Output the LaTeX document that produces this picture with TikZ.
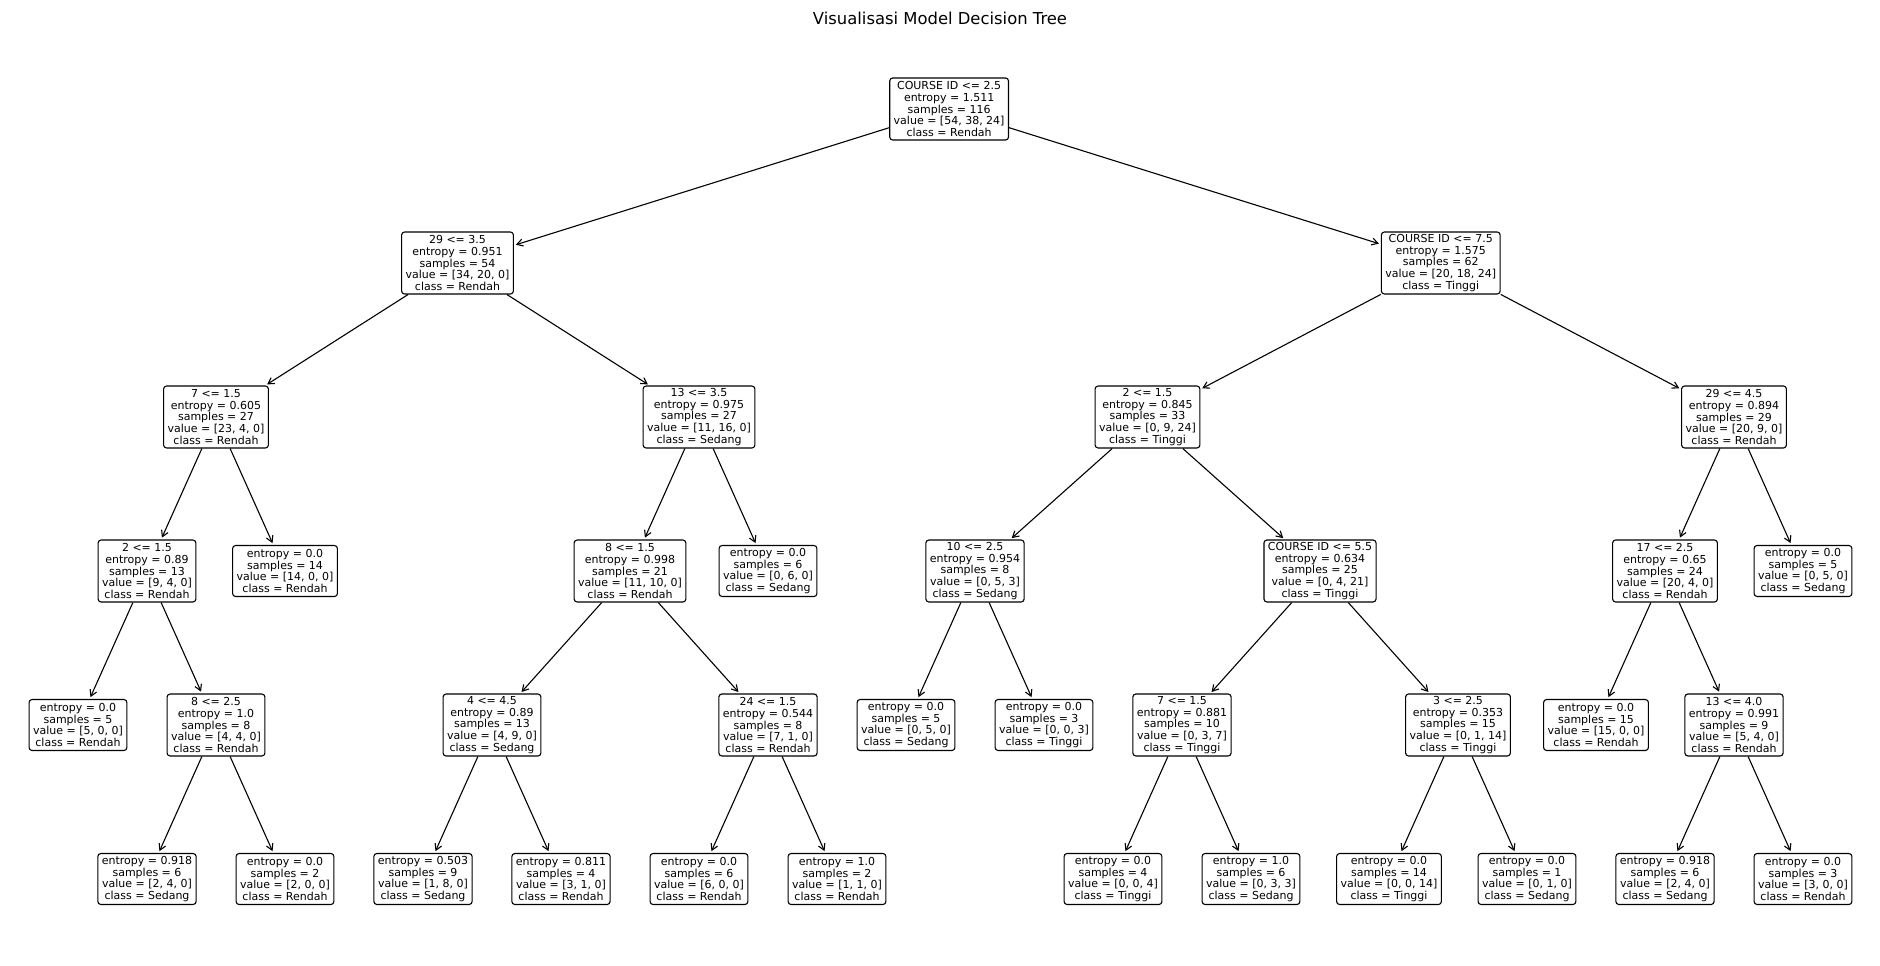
\documentclass[tikz,border=0pt]{standalone}
\usepackage{fontspec}
\setmainfont{DejaVu Sans}
\usetikzlibrary{arrows.meta}

\begin{document}
\begin{tikzpicture}[
    x=69pt, y=-154pt,
    font=\fontsize{11}{11.8}\selectfont,
    split/.style={draw, line width=1.1pt, rounded corners=3pt, fill=white, align=center, inner xsep=4pt, inner ysep=2pt, minimum height=62pt},
    leaf/.style={split, minimum height=51pt},
    arrow/.style={-{Straight Barb[length=6pt, width=7pt]}, line width=1.1pt, shorten >=2pt}
  ]
  \useasboundingbox (-78pt,109pt) rectangle (1802pt,-857pt);

  % Title
  \node[font=\fontsize{16.4}{19}\selectfont] (title) at (862pt,91pt) {Visualisasi Model Decision Tree};

  % Level 0
  \node[split] (root) at (12.625,0) {COURSE ID <= 2.5\\entropy = 1.511\\samples = 116\\value = [54, 38, 24]\\class = Rendah};

  % Level 1
  \node[split] (L) at (5.5,1) {29 <= 3.5\\entropy = 0.951\\samples = 54\\value = [34, 20, 0]\\class = Rendah};
  \node[split] (R) at (19.75,1) {COURSE ID <= 7.5\\entropy = 1.575\\samples = 62\\value = [20, 18, 24]\\class = Tinggi};

  % Level 2
  \node[split] (LL) at (2,2) {7 <= 1.5\\entropy = 0.605\\samples = 27\\value = [23, 4, 0]\\class = Rendah};
  \node[split] (LR) at (9,2) {13 <= 3.5\\entropy = 0.975\\samples = 27\\value = [11, 16, 0]\\class = Sedang};
  \node[split] (RL) at (15.5,2) {2 <= 1.5\\entropy = 0.845\\samples = 33\\value = [0, 9, 24]\\class = Tinggi};
  \node[split] (RR) at (24,2) {29 <= 4.5\\entropy = 0.894\\samples = 29\\value = [20, 9, 0]\\class = Rendah};

  % Level 3
  \node[split] (LLL) at (1,3) {2 <= 1.5\\entropy = 0.89\\samples = 13\\value = [9, 4, 0]\\class = Rendah};
  \node[leaf] (LLR) at (3,3) {entropy = 0.0\\samples = 14\\value = [14, 0, 0]\\class = Rendah};
  \node[split] (LRL) at (8,3) {8 <= 1.5\\entropy = 0.998\\samples = 21\\value = [11, 10, 0]\\class = Rendah};
  \node[leaf] (LRR) at (10,3) {entropy = 0.0\\samples = 6\\value = [0, 6, 0]\\class = Sedang};
  \node[split] (RLL) at (13,3) {10 <= 2.5\\entropy = 0.954\\samples = 8\\value = [0, 5, 3]\\class = Sedang};
  \node[split] (RLR) at (18,3) {COURSE ID <= 5.5\\entropy = 0.634\\samples = 25\\value = [0, 4, 21]\\class = Tinggi};
  \node[split] (RRL) at (23,3) {17 <= 2.5\\entropy = 0.65\\samples = 24\\value = [20, 4, 0]\\class = Rendah};
  \node[leaf] (RRR) at (25,3) {entropy = 0.0\\samples = 5\\value = [0, 5, 0]\\class = Sedang};

  % Level 4
  \node[leaf] (LLLL) at (0,4) {entropy = 0.0\\samples = 5\\value = [5, 0, 0]\\class = Rendah};
  \node[split] (LLLR) at (2,4) {8 <= 2.5\\entropy = 1.0\\samples = 8\\value = [4, 4, 0]\\class = Rendah};
  \node[split] (LRLL) at (6,4) {4 <= 4.5\\entropy = 0.89\\samples = 13\\value = [4, 9, 0]\\class = Sedang};
  \node[split] (LRLR) at (10,4) {24 <= 1.5\\entropy = 0.544\\samples = 8\\value = [7, 1, 0]\\class = Rendah};
  \node[leaf] (RLLL) at (12,4) {entropy = 0.0\\samples = 5\\value = [0, 5, 0]\\class = Sedang};
  \node[leaf] (RLLR) at (14,4) {entropy = 0.0\\samples = 3\\value = [0, 0, 3]\\class = Tinggi};
  \node[split] (RLRL) at (16,4) {7 <= 1.5\\entropy = 0.881\\samples = 10\\value = [0, 3, 7]\\class = Tinggi};
  \node[split] (RLRR) at (20,4) {3 <= 2.5\\entropy = 0.353\\samples = 15\\value = [0, 1, 14]\\class = Tinggi};
  \node[leaf] (RRLL) at (22,4) {entropy = 0.0\\samples = 15\\value = [15, 0, 0]\\class = Rendah};
  \node[split] (RRLR) at (24,4) {13 <= 4.0\\entropy = 0.991\\samples = 9\\value = [5, 4, 0]\\class = Rendah};

  % Level 5
  \node[leaf] (LLLRL) at (1,5) {entropy = 0.918\\samples = 6\\value = [2, 4, 0]\\class = Sedang};
  \node[leaf] (LLLRR) at (3,5) {entropy = 0.0\\samples = 2\\value = [2, 0, 0]\\class = Rendah};
  \node[leaf] (LRLLL) at (5,5) {entropy = 0.503\\samples = 9\\value = [1, 8, 0]\\class = Sedang};
  \node[leaf] (LRLLR) at (7,5) {entropy = 0.811\\samples = 4\\value = [3, 1, 0]\\class = Rendah};
  \node[leaf] (LRLRL) at (9,5) {entropy = 0.0\\samples = 6\\value = [6, 0, 0]\\class = Rendah};
  \node[leaf] (LRLRR) at (11,5) {entropy = 1.0\\samples = 2\\value = [1, 1, 0]\\class = Rendah};
  \node[leaf] (RLRLL) at (15,5) {entropy = 0.0\\samples = 4\\value = [0, 0, 4]\\class = Tinggi};
  \node[leaf] (RLRLR) at (17,5) {entropy = 1.0\\samples = 6\\value = [0, 3, 3]\\class = Sedang};
  \node[leaf] (RLRRL) at (19,5) {entropy = 0.0\\samples = 14\\value = [0, 0, 14]\\class = Tinggi};
  \node[leaf] (RLRRR) at (21,5) {entropy = 0.0\\samples = 1\\value = [0, 1, 0]\\class = Sedang};
  \node[leaf] (RRLRL) at (23,5) {entropy = 0.918\\samples = 6\\value = [2, 4, 0]\\class = Sedang};
  \node[leaf] (RRLRR) at (25,5) {entropy = 0.0\\samples = 3\\value = [3, 0, 0]\\class = Rendah};

  % Connectors
  \draw[arrow] (root) -- (L);
  \draw[arrow] (root) -- (R);
  \draw[arrow] (L) -- (LL);
  \draw[arrow] (L) -- (LR);
  \draw[arrow] (R) -- (RL);
  \draw[arrow] (R) -- (RR);
  \draw[arrow] (LL) -- (LLL);
  \draw[arrow] (LL) -- (LLR);
  \draw[arrow] (LR) -- (LRL);
  \draw[arrow] (LR) -- (LRR);
  \draw[arrow] (RL) -- (RLL);
  \draw[arrow] (RL) -- (RLR);
  \draw[arrow] (RR) -- (RRL);
  \draw[arrow] (RR) -- (RRR);
  \draw[arrow] (LLL) -- (LLLL);
  \draw[arrow] (LLL) -- (LLLR);
  \draw[arrow] (LRL) -- (LRLL);
  \draw[arrow] (LRL) -- (LRLR);
  \draw[arrow] (RLL) -- (RLLL);
  \draw[arrow] (RLL) -- (RLLR);
  \draw[arrow] (RLR) -- (RLRL);
  \draw[arrow] (RLR) -- (RLRR);
  \draw[arrow] (RRL) -- (RRLL);
  \draw[arrow] (RRL) -- (RRLR);
  \draw[arrow] (LLLR) -- (LLLRL);
  \draw[arrow] (LLLR) -- (LLLRR);
  \draw[arrow] (LRLL) -- (LRLLL);
  \draw[arrow] (LRLL) -- (LRLLR);
  \draw[arrow] (LRLR) -- (LRLRL);
  \draw[arrow] (LRLR) -- (LRLRR);
  \draw[arrow] (RLRL) -- (RLRLL);
  \draw[arrow] (RLRL) -- (RLRLR);
  \draw[arrow] (RLRR) -- (RLRRL);
  \draw[arrow] (RLRR) -- (RLRRR);
  \draw[arrow] (RRLR) -- (RRLRL);
  \draw[arrow] (RRLR) -- (RRLRR);

\end{tikzpicture}
\end{document}
